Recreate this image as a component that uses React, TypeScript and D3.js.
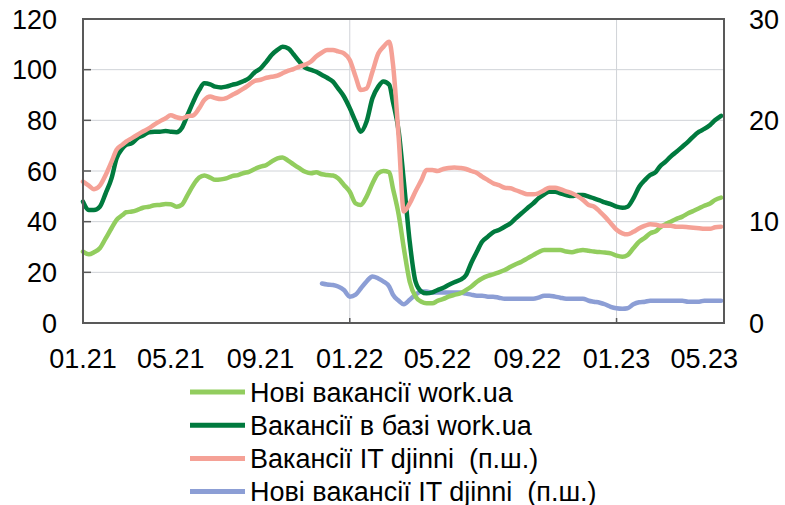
import React, { useEffect, useRef } from 'react';
import * as d3 from 'd3';

// four points per month, from 01.2021 to 05.2023
const dates = d3.range(116).map((i) => new Date(2021, Math.floor(i / 4), 1 + Math.round((i % 4) * 7.5)));

// left axis
const newWork = [
    28.2, 27.1, 27.9, 29.5, 33.4, 37.4, 40.7, 42.6, 43.7, 44.0, 44.6, 45.5,
    45.9, 46.5, 46.6, 47.0, 46.9, 45.9, 46.6, 50.5, 54.5, 57.4, 58.2, 57.4,
    56.5, 56.7, 57.1, 58.0, 58.4, 59.2, 59.7, 60.8, 61.7, 62.4, 63.7, 65.0,
    65.3, 64.0, 62.6, 61.1, 59.7, 59.1, 59.5, 58.7, 58.4, 58.2, 57.1, 54.5,
    51.8, 47.2, 46.6, 49.9, 55.1, 59.1, 60.0, 59.5, 53.2, 42.6, 29.5, 16.3,
    10.4, 8.4, 7.8, 7.8, 8.7, 9.5, 10.4, 11.1, 11.7, 13.0, 14.3, 16.3,
    17.6, 18.6, 19.2, 20.0, 20.9, 22.2, 23.2, 24.2, 25.5, 26.8, 27.9, 28.8,
    28.8, 28.8, 28.8, 28.2, 27.9, 28.5, 28.8, 28.5, 28.2, 28.0, 27.8, 27.5,
    26.6, 26.2, 26.8, 29.5, 32.1, 33.7, 35.4, 36.3, 37.6, 39.0, 40.0, 41.1,
    42.0, 43.3, 44.2, 45.3, 46.3, 47.2, 48.6, 49.5
];
const baseWork = [
    47.9, 44.6, 44.6, 45.9, 51.2, 57.1, 65.0, 69.0, 70.3, 71.0, 72.9, 74.0,
    75.3, 75.5, 75.5, 75.8, 75.5, 75.3, 76.9, 82.1, 87.4, 92.0, 94.6, 94.2,
    93.3, 93.0, 93.3, 94.0, 94.6, 95.5, 96.6, 99.0, 100.5, 103.2, 105.8, 107.8,
    109.0, 108.4, 106.1, 103.2, 100.8, 99.9, 99.2, 97.9, 96.8, 95.3, 92.6, 89.4,
    84.8, 79.5, 75.5, 79.5, 88.7, 93.3, 95.3, 94.0, 87.4, 75.5, 55.8, 32.1,
    16.3, 12.4, 11.7, 12.1, 13.0, 13.9, 15.0, 16.1, 17.0, 18.9, 23.6, 28.2,
    32.1, 34.1, 35.8, 36.7, 38.0, 39.4, 41.3, 43.3, 45.3, 47.2, 49.2, 50.8,
    51.8, 51.8, 51.2, 50.5, 50.1, 50.5, 50.5, 49.9, 49.2, 48.4, 47.6, 46.9,
    45.9, 45.5, 45.9, 49.2, 53.8, 56.5, 58.4, 59.7, 61.7, 63.7, 65.7, 67.6,
    69.6, 71.6, 73.6, 75.5, 76.6, 78.2, 80.1, 81.8
];

// right axis (п.ш.)
const itDjinni = [
    13.95, 13.55, 13.2, 13.55, 14.6, 15.9, 17.1, 17.6, 17.9, 18.25, 18.55, 18.9,
    19.2, 19.6, 19.9, 20.2, 20.5, 20.3, 20.2, 20.4, 20.5, 21.2, 22.0, 22.35,
    22.2, 22.1, 22.2, 22.5, 22.8, 23.15, 23.5, 23.9, 24.0, 24.2, 24.3, 24.4,
    24.65, 24.9, 25.05, 25.3, 25.5, 25.8, 26.3, 26.7, 26.95, 26.95, 26.8, 26.6,
    25.95, 24.3, 23.0, 23.15, 24.8, 26.6, 27.25, 27.75, 25.6, 18.2, 11.0, 11.8,
    13.0, 14.1, 15.1, 15.1, 15.0, 15.2, 15.3, 15.35, 15.3, 15.2, 15.0, 14.8,
    14.45, 14.1, 13.8, 13.6, 13.35, 13.3, 13.1, 12.9, 12.7, 12.7, 12.8, 13.1,
    13.35, 13.35, 13.2, 13.0, 12.8, 12.5, 12.15, 11.65, 11.5, 11.0, 10.5, 9.85,
    9.2, 8.85, 8.75, 9.0, 9.35, 9.6, 9.75, 9.7, 9.6, 9.6, 9.6, 9.5,
    9.5, 9.45, 9.4, 9.35, 9.3, 9.3, 9.45, 9.5
];
const newItDjinni = [
    ...Array(43).fill(null),
    3.9, 3.8, 3.75, 3.6, 3.25, 2.6, 2.8, 3.4, 4.1, 4.6, 4.4, 4.1, 3.6,
    2.8, 2.2, 1.85, 2.3, 2.8, 3.1, 3.1, 3.0, 3.0, 3.0, 3.0, 3.0,
    3.0, 2.9, 2.8, 2.7, 2.7, 2.6, 2.6, 2.5, 2.4, 2.4, 2.4, 2.4,
    2.4, 2.4, 2.5, 2.7, 2.7, 2.6, 2.5, 2.4, 2.4, 2.4, 2.4, 2.2,
    2.1, 2.0, 1.85, 1.6, 1.45, 1.4, 1.45, 1.85, 2.05, 2.1, 2.2, 2.2,
    2.2, 2.2, 2.2, 2.2, 2.2, 2.1, 2.1, 2.1, 2.2, 2.2, 2.2, 2.2
];

const leftTicks = [0, 20, 40, 60, 80, 100, 120];
const rightTicks = [0, 10, 20, 30];
const xTickDates = [
    new Date(2021, 0, 1), new Date(2021, 4, 1), new Date(2021, 8, 1), new Date(2022, 0, 1),
    new Date(2022, 4, 1), new Date(2022, 8, 1), new Date(2023, 0, 1), new Date(2023, 4, 1)
];
const xGridDates = [new Date(2022, 0, 1), new Date(2023, 0, 1)];

const seriesNames = [
    'Нові вакансії work.ua',
    'Вакансії в базі work.ua',
    'Вакансії IT djinni  (п.ш.)',
    'Нові вакансії IT djinni  (п.ш.)'
];
const seriesColors = ['#92CD5E', '#007A3E', '#F5A196', '#8C9ED5'];

export default function App() {
    const ref = useRef<SVGSVGElement | null>(null);

    useEffect(() => {
        const svg = d3.select(ref.current);
        svg.selectAll('*').remove();

        const margin = { top: 19, right: 61, bottom: 182, left: 83 };
        const W = 785, H = 505;
        const font = '"Liberation Sans", Arial, sans-serif';

        const x = d3.scaleTime()
            .domain([new Date(2021, 0, 1), new Date(2023, 4, 28)])
            .range([margin.left, W - margin.right]);
        const yL = d3.scaleLinear().domain([0, 120]).range([H - margin.bottom, margin.top]);
        const yR = d3.scaleLinear().domain([0, 30]).range([H - margin.bottom, margin.top]);

        // grid
        svg.append('g').selectAll('line').data(leftTicks.slice(1, -1)).enter().append('line')
            .attr('x1', margin.left).attr('x2', W - margin.right)
            .attr('y1', (d) => yL(d)).attr('y2', (d) => yL(d))
            .attr('stroke', '#D0D3D8').attr('stroke-width', 1);
        svg.append('g').selectAll('line').data(xGridDates).enter().append('line')
            .attr('x1', (d) => x(d)).attr('x2', (d) => x(d))
            .attr('y1', margin.top).attr('y2', H - margin.bottom)
            .attr('stroke', '#D0D3D8').attr('stroke-width', 1);

        // ticks inside the frame
        svg.append('g').selectAll('line').data(leftTicks).enter().append('line')
            .attr('x1', margin.left).attr('x2', margin.left + 8)
            .attr('y1', (d) => yL(d)).attr('y2', (d) => yL(d))
            .attr('stroke', '#595959').attr('stroke-width', 1.5);
        svg.append('g').selectAll('line').data(xGridDates).enter().append('line')
            .attr('x1', (d) => x(d)).attr('x2', (d) => x(d))
            .attr('y1', H - margin.bottom).attr('y2', H - margin.bottom - 5)
            .attr('stroke', '#595959').attr('stroke-width', 1.5);

        // lines
        const lineL = d3.line<number | null>()
            .defined((d) => d != null)
            .x((d, i) => x(dates[i]))
            .y((d) => yL(d as number))
            .curve(d3.curveMonotoneX);
        const lineR = d3.line<number | null>()
            .defined((d) => d != null)
            .x((d, i) => x(dates[i]))
            .y((d) => yR(d as number))
            .curve(d3.curveMonotoneX);

        const series = [
            { values: newWork, line: lineL },
            { values: baseWork, line: lineL },
            { values: itDjinni, line: lineR },
            { values: newItDjinni, line: lineR }
        ];
        // draw order as in the picture: blue below, then light green, dark green, pink
        [3, 0, 1, 2].forEach((k) => {
            svg.append('path')
                .datum(series[k].values)
                .attr('d', series[k].line as any)
                .attr('fill', 'none')
                .attr('stroke', seriesColors[k])
                .attr('stroke-width', 4.5)
                .attr('stroke-linejoin', 'round')
                .attr('stroke-linecap', 'round');
        });

        // frame
        svg.append('rect')
            .attr('x', margin.left).attr('y', margin.top)
            .attr('width', W - margin.left - margin.right)
            .attr('height', H - margin.top - margin.bottom)
            .attr('fill', 'none').attr('stroke', '#595959').attr('stroke-width', 2);

        // tick labels
        svg.append('g').selectAll('text').data(leftTicks).enter().append('text')
            .attr('x', 57).attr('y', (d) => yL(d)).attr('dy', '0.36em')
            .attr('text-anchor', 'end')
            .style('font-family', font).style('font-size', '27px').attr('fill', '#000')
            .text((d) => d);
        svg.append('g').selectAll('text').data(rightTicks).enter().append('text')
            .attr('x', 749).attr('y', (d) => yR(d)).attr('dy', '0.36em')
            .attr('text-anchor', 'start')
            .style('font-family', font).style('font-size', '27px').attr('fill', '#000')
            .text((d) => d);
        svg.append('g').selectAll('text').data(xTickDates).enter().append('text')
            .attr('x', (d) => x(d)).attr('y', 368)
            .attr('text-anchor', 'middle')
            .style('font-family', font).style('font-size', '27px').attr('fill', '#000')
            .text((d) => d3.timeFormat('%m.%y')(d));

        // legend
        const legend = svg.append('g');
        seriesNames.forEach((name, i) => {
            const cy = 392 + i * 33.2;
            legend.append('line')
                .attr('x1', 190).attr('x2', 245).attr('y1', cy).attr('y2', cy)
                .attr('stroke', seriesColors[i]).attr('stroke-width', 5);
            legend.append('text')
                .attr('x', 250).attr('y', cy).attr('dy', '0.36em')
                .style('font-family', font).style('font-size', '27px')
                .style('white-space', 'pre').attr('fill', '#000')
                .text(name);
        });
    }, []);

    return (
        <svg ref={ref} width={785} height={505}
            style={{ position: 'absolute', left: 0, top: 0, background: '#fff' }} />
    );
}
